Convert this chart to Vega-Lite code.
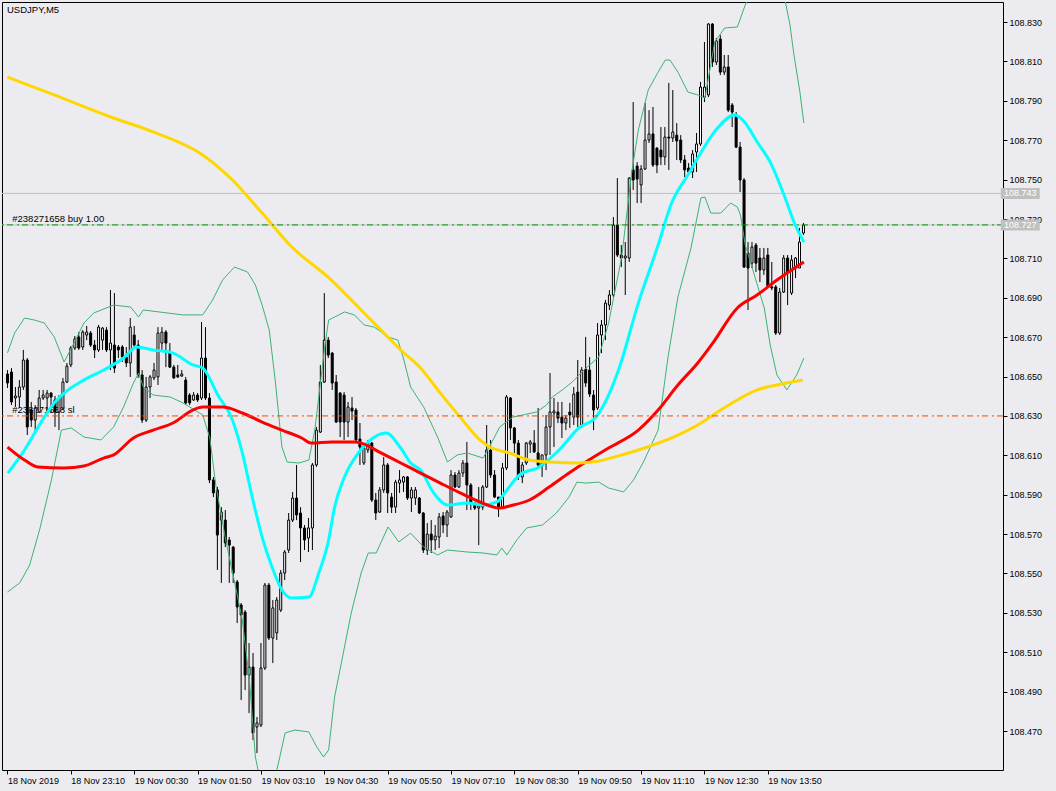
{
"$schema": "https://vega.github.io/schema/vega-lite/v6.json",
"width": 1001, "height": 768,
"autosize": {"type": "none"},
"padding": {"left": 2, "top": 2, "right": 53, "bottom": 21},
"background": "#ececf0",
"title": {"text": "USDJPY,M5", "anchor": "start", "frame": "group", "offset": -12, "dx": 5, "fontSize": 9.5, "font": "Liberation Sans", "fontWeight": "normal", "color": "#000000"},
"config": {"view": {"stroke": "#000000", "strokeWidth": 1, "fill": "#ececf0"}, "font": "Liberation Sans"},
"datasets": {
"candles": [
{"i":0,"o":108.6513,"h":108.6533,"l":108.6442,"c":108.6467},
{"i":1,"o":108.6523,"h":108.6543,"l":108.6355,"c":108.6371},
{"i":2,"o":108.6391,"h":108.6447,"l":108.6345,"c":108.6401},
{"i":3,"o":108.6396,"h":108.6482,"l":108.6340,"c":108.6447},
{"i":4,"o":108.6447,"h":108.6635,"l":108.6432,"c":108.6584},
{"i":5,"o":108.6584,"h":108.6594,"l":108.6203,"c":108.6244},
{"i":6,"o":108.6330,"h":108.6371,"l":108.6244,"c":108.6279},
{"i":7,"o":108.6279,"h":108.6355,"l":108.6213,"c":108.6340},
{"i":8,"o":108.6320,"h":108.6432,"l":108.6315,"c":108.6391},
{"i":9,"o":108.6391,"h":108.6432,"l":108.6381,"c":108.6406},
{"i":10,"o":108.6391,"h":108.6432,"l":108.6320,"c":108.6416},
{"i":11,"o":108.6416,"h":108.6421,"l":108.6315,"c":108.6396},
{"i":12,"o":108.6381,"h":108.6401,"l":108.6244,"c":108.6320},
{"i":13,"o":108.6320,"h":108.6406,"l":108.6228,"c":108.6391},
{"i":14,"o":108.6340,"h":108.6493,"l":108.6330,"c":108.6472},
{"i":15,"o":108.6472,"h":108.6569,"l":108.6467,"c":108.6553},
{"i":16,"o":108.6559,"h":108.6655,"l":108.6548,"c":108.6645},
{"i":17,"o":108.6645,"h":108.6706,"l":108.6635,"c":108.6691},
{"i":18,"o":108.6701,"h":108.6726,"l":108.6635,"c":108.6645},
{"i":19,"o":108.6650,"h":108.6736,"l":108.6635,"c":108.6726},
{"i":20,"o":108.6711,"h":108.6757,"l":108.6685,"c":108.6726},
{"i":21,"o":108.6721,"h":108.6731,"l":108.6650,"c":108.6660},
{"i":22,"o":108.6660,"h":108.6685,"l":108.6594,"c":108.6635},
{"i":23,"o":108.6635,"h":108.6762,"l":108.6625,"c":108.6751},
{"i":24,"o":108.6685,"h":108.6751,"l":108.6635,"c":108.6746},
{"i":25,"o":108.6736,"h":108.6751,"l":108.6625,"c":108.6635},
{"i":26,"o":108.6635,"h":108.6939,"l":108.6533,"c":108.6670},
{"i":27,"o":108.6660,"h":108.6924,"l":108.6518,"c":108.6543},
{"i":28,"o":108.6650,"h":108.6660,"l":108.6594,"c":108.6635},
{"i":29,"o":108.6650,"h":108.6660,"l":108.6574,"c":108.6599},
{"i":30,"o":108.6599,"h":108.6650,"l":108.6548,"c":108.6569},
{"i":31,"o":108.6569,"h":108.6797,"l":108.6498,"c":108.6751},
{"i":32,"o":108.6711,"h":108.6757,"l":108.6650,"c":108.6660},
{"i":33,"o":108.6660,"h":108.6685,"l":108.6493,"c":108.6508},
{"i":34,"o":108.6508,"h":108.6533,"l":108.6264,"c":108.6279},
{"i":35,"o":108.6279,"h":108.6498,"l":108.6269,"c":108.6447},
{"i":36,"o":108.6447,"h":108.6508,"l":108.6391,"c":108.6498},
{"i":37,"o":108.6493,"h":108.6569,"l":108.6482,"c":108.6533},
{"i":38,"o":108.6498,"h":108.6751,"l":108.6457,"c":108.6721},
{"i":39,"o":108.6670,"h":108.6751,"l":108.6635,"c":108.6726},
{"i":40,"o":108.6726,"h":108.6736,"l":108.6548,"c":108.6670},
{"i":41,"o":108.6625,"h":108.6670,"l":108.6543,"c":108.6548},
{"i":42,"o":108.6548,"h":108.6559,"l":108.6488,"c":108.6493},
{"i":43,"o":108.6508,"h":108.6559,"l":108.6493,"c":108.6498},
{"i":44,"o":108.6503,"h":108.6533,"l":108.6498,"c":108.6513},
{"i":45,"o":108.6482,"h":108.6498,"l":108.6355,"c":108.6366},
{"i":46,"o":108.6406,"h":108.6416,"l":108.6355,"c":108.6366},
{"i":47,"o":108.6381,"h":108.6421,"l":108.6376,"c":108.6406},
{"i":48,"o":108.6406,"h":108.6416,"l":108.6371,"c":108.6381},
{"i":49,"o":108.6391,"h":108.6777,"l":108.6381,"c":108.6594},
{"i":50,"o":108.6594,"h":108.6751,"l":108.6381,"c":108.6391},
{"i":51,"o":108.6391,"h":108.6416,"l":108.5959,"c":108.5975},
{"i":52,"o":108.5975,"h":108.5990,"l":108.5888,"c":108.5909},
{"i":53,"o":108.5924,"h":108.5939,"l":108.5518,"c":108.5695},
{"i":54,"o":108.5771,"h":108.5837,"l":108.5452,"c":108.5812},
{"i":55,"o":108.5771,"h":108.5822,"l":108.5634,"c":108.5655},
{"i":56,"o":108.5670,"h":108.5685,"l":108.5452,"c":108.5644},
{"i":57,"o":108.5634,"h":108.5639,"l":108.5452,"c":108.5502},
{"i":58,"o":108.5457,"h":108.5467,"l":108.5248,"c":108.5330},
{"i":59,"o":108.5340,"h":108.5350,"l":108.4857,"c":108.5289},
{"i":60,"o":108.5304,"h":108.5314,"l":108.4908,"c":108.4984},
{"i":61,"o":108.4984,"h":108.5147,"l":108.4791,"c":108.5025},
{"i":62,"o":108.5025,"h":108.5096,"l":108.4654,"c":108.4690},
{"i":63,"o":108.4720,"h":108.4771,"l":108.4588,"c":108.4741},
{"i":64,"o":108.4730,"h":108.5147,"l":108.4720,"c":108.5020},
{"i":65,"o":108.5020,"h":108.5452,"l":108.5010,"c":108.5441},
{"i":66,"o":108.5441,"h":108.5452,"l":108.5162,"c":108.5172},
{"i":67,"o":108.5172,"h":108.5365,"l":108.5045,"c":108.5325},
{"i":68,"o":108.5198,"h":108.5380,"l":108.5162,"c":108.5365},
{"i":69,"o":108.5314,"h":108.5518,"l":108.5304,"c":108.5502},
{"i":70,"o":108.5502,"h":108.5619,"l":108.5467,"c":108.5609},
{"i":71,"o":108.5619,"h":108.5807,"l":108.5604,"c":108.5771},
{"i":72,"o":108.5771,"h":108.5914,"l":108.5761,"c":108.5883},
{"i":73,"o":108.5883,"h":108.6051,"l":108.5771,"c":108.5797},
{"i":74,"o":108.5807,"h":108.5837,"l":108.5558,"c":108.5731},
{"i":75,"o":108.5731,"h":108.5746,"l":108.5619,"c":108.5670},
{"i":76,"o":108.5680,"h":108.5782,"l":108.5609,"c":108.5731},
{"i":77,"o":108.5731,"h":108.6061,"l":108.5619,"c":108.6051},
{"i":78,"o":108.6051,"h":108.6244,"l":108.6041,"c":108.6228},
{"i":79,"o":108.6218,"h":108.6559,"l":108.6213,"c":108.6472},
{"i":80,"o":108.6472,"h":108.6924,"l":108.6467,"c":108.6685},
{"i":81,"o":108.6685,"h":108.6701,"l":108.6594,"c":108.6609},
{"i":82,"o":108.6619,"h":108.6625,"l":108.6432,"c":108.6467},
{"i":83,"o":108.6472,"h":108.6508,"l":108.6264,"c":108.6269},
{"i":84,"o":108.6416,"h":108.6421,"l":108.6193,"c":108.6269},
{"i":85,"o":108.6406,"h":108.6421,"l":108.6178,"c":108.6269},
{"i":86,"o":108.6269,"h":108.6371,"l":108.6193,"c":108.6345},
{"i":87,"o":108.6340,"h":108.6396,"l":108.6279,"c":108.6325},
{"i":88,"o":108.6330,"h":108.6340,"l":108.6168,"c":108.6178},
{"i":89,"o":108.6183,"h":108.6264,"l":108.6051,"c":108.6142},
{"i":90,"o":108.6061,"h":108.6162,"l":108.6051,"c":108.6137},
{"i":91,"o":108.6127,"h":108.6178,"l":108.6112,"c":108.6162},
{"i":92,"o":108.6162,"h":108.6168,"l":108.5863,"c":108.5873},
{"i":93,"o":108.5873,"h":108.5909,"l":108.5771,"c":108.5807},
{"i":94,"o":108.5812,"h":108.5939,"l":108.5807,"c":108.5924},
{"i":95,"o":108.5924,"h":108.6091,"l":108.5909,"c":108.6051},
{"i":96,"o":108.6051,"h":108.6061,"l":108.5807,"c":108.5909},
{"i":97,"o":108.5888,"h":108.5909,"l":108.5807,"c":108.5837},
{"i":98,"o":108.5837,"h":108.5975,"l":108.5807,"c":108.5964},
{"i":99,"o":108.5959,"h":108.6025,"l":108.5909,"c":108.5975},
{"i":100,"o":108.5964,"h":108.5995,"l":108.5914,"c":108.5990},
{"i":101,"o":108.5990,"h":108.5995,"l":108.5873,"c":108.5883},
{"i":102,"o":108.5883,"h":108.5939,"l":108.5812,"c":108.5924},
{"i":103,"o":108.5883,"h":108.5939,"l":108.5848,"c":108.5924},
{"i":104,"o":108.5883,"h":108.5888,"l":108.5802,"c":108.5807},
{"i":105,"o":108.5807,"h":108.5812,"l":108.5604,"c":108.5619},
{"i":106,"o":108.5619,"h":108.5756,"l":108.5594,"c":108.5700},
{"i":107,"o":108.5700,"h":108.5771,"l":108.5604,"c":108.5670},
{"i":108,"o":108.5670,"h":108.5746,"l":108.5619,"c":108.5690},
{"i":109,"o":108.5685,"h":108.5807,"l":108.5629,"c":108.5787},
{"i":110,"o":108.5792,"h":108.5812,"l":108.5705,"c":108.5746},
{"i":111,"o":108.5746,"h":108.5822,"l":108.5685,"c":108.5812},
{"i":112,"o":108.5787,"h":108.6025,"l":108.5782,"c":108.6000},
{"i":113,"o":108.6000,"h":108.6015,"l":108.5934,"c":108.5939},
{"i":114,"o":108.5939,"h":108.6025,"l":108.5934,"c":108.6010},
{"i":115,"o":108.6010,"h":108.6076,"l":108.5990,"c":108.6061},
{"i":116,"o":108.6061,"h":108.6168,"l":108.5822,"c":108.5949},
{"i":117,"o":108.5949,"h":108.5959,"l":108.5822,"c":108.5858},
{"i":118,"o":108.5858,"h":108.5858,"l":108.5822,"c":108.5832},
{"i":119,"o":108.5832,"h":108.5939,"l":108.5644,"c":108.5843},
{"i":120,"o":108.5837,"h":108.5949,"l":108.5822,"c":108.5939},
{"i":121,"o":108.5939,"h":108.6254,"l":108.5934,"c":108.6127},
{"i":122,"o":108.6127,"h":108.6178,"l":108.5985,"c":108.6000},
{"i":123,"o":108.6000,"h":108.6025,"l":108.5883,"c":108.5888},
{"i":124,"o":108.5888,"h":108.5888,"l":108.5787,"c":108.5837},
{"i":125,"o":108.5837,"h":108.6061,"l":108.5832,"c":108.6036},
{"i":126,"o":108.6036,"h":108.6406,"l":108.6025,"c":108.6396},
{"i":127,"o":108.6391,"h":108.6396,"l":108.6178,"c":108.6239},
{"i":128,"o":108.6239,"h":108.6244,"l":108.6112,"c":108.6162},
{"i":129,"o":108.6162,"h":108.6178,"l":108.5975,"c":108.5990},
{"i":130,"o":108.5990,"h":108.6066,"l":108.5959,"c":108.6051},
{"i":131,"o":108.6061,"h":108.6168,"l":108.6051,"c":108.6162},
{"i":132,"o":108.6157,"h":108.6178,"l":108.6112,"c":108.6168},
{"i":133,"o":108.6162,"h":108.6228,"l":108.6112,"c":108.6117},
{"i":134,"o":108.6112,"h":108.6340,"l":108.6041,"c":108.6051},
{"i":135,"o":108.6046,"h":108.6102,"l":108.5990,"c":108.6102},
{"i":136,"o":108.6102,"h":108.6305,"l":108.6025,"c":108.6244},
{"i":137,"o":108.6244,"h":108.6518,"l":108.6102,"c":108.6320},
{"i":138,"o":108.6315,"h":108.6391,"l":108.6142,"c":108.6325},
{"i":139,"o":108.6320,"h":108.6371,"l":108.6264,"c":108.6289},
{"i":140,"o":108.6294,"h":108.6371,"l":108.6188,"c":108.6264},
{"i":141,"o":108.6264,"h":108.6305,"l":108.6228,"c":108.6289},
{"i":142,"o":108.6320,"h":108.6366,"l":108.6239,"c":108.6305},
{"i":143,"o":108.6294,"h":108.6447,"l":108.6254,"c":108.6411},
{"i":144,"o":108.6421,"h":108.6584,"l":108.6244,"c":108.6294},
{"i":145,"o":108.6254,"h":108.6548,"l":108.6239,"c":108.6533},
{"i":146,"o":108.6538,"h":108.6701,"l":108.6447,"c":108.6467},
{"i":147,"o":108.6533,"h":108.6599,"l":108.6396,"c":108.6411},
{"i":148,"o":108.6406,"h":108.6432,"l":108.6228,"c":108.6330},
{"i":149,"o":108.6340,"h":108.6772,"l":108.6330,"c":108.6711},
{"i":150,"o":108.6711,"h":108.6787,"l":108.6619,"c":108.6762},
{"i":151,"o":108.6762,"h":108.6889,"l":108.6685,"c":108.6873},
{"i":152,"o":108.6863,"h":108.6939,"l":108.6838,"c":108.6914},
{"i":153,"o":108.6914,"h":108.7310,"l":108.6904,"c":108.7269},
{"i":154,"o":108.7269,"h":108.7508,"l":108.7107,"c":108.7117},
{"i":155,"o":108.7117,"h":108.7168,"l":108.7056,"c":108.7102},
{"i":156,"o":108.7102,"h":108.7183,"l":108.6914,"c":108.7112},
{"i":157,"o":108.7102,"h":108.7513,"l":108.7082,"c":108.7508},
{"i":158,"o":108.7549,"h":108.7894,"l":108.7447,"c":108.7498},
{"i":159,"o":108.7569,"h":108.7589,"l":108.7381,"c":108.7503},
{"i":160,"o":108.7473,"h":108.7574,"l":108.7381,"c":108.7554},
{"i":161,"o":108.7554,"h":108.7889,"l":108.7549,"c":108.7701},
{"i":162,"o":108.7701,"h":108.7853,"l":108.7686,"c":108.7732},
{"i":163,"o":108.7732,"h":108.7869,"l":108.7564,"c":108.7574},
{"i":164,"o":108.7660,"h":108.7665,"l":108.7533,"c":108.7574},
{"i":165,"o":108.7650,"h":108.7767,"l":108.7574,"c":108.7615},
{"i":166,"o":108.7615,"h":108.7767,"l":108.7574,"c":108.7716},
{"i":167,"o":108.7716,"h":108.7991,"l":108.7549,"c":108.7711},
{"i":168,"o":108.7711,"h":108.7955,"l":108.7691,"c":108.7742},
{"i":169,"o":108.7726,"h":108.7787,"l":108.7600,"c":108.7696},
{"i":170,"o":108.7701,"h":108.7726,"l":108.7584,"c":108.7600},
{"i":171,"o":108.7600,"h":108.7625,"l":108.7513,"c":108.7549},
{"i":172,"o":108.7559,"h":108.7584,"l":108.7533,"c":108.7539},
{"i":173,"o":108.7539,"h":108.7650,"l":108.7508,"c":108.7630},
{"i":174,"o":108.7640,"h":108.7737,"l":108.7539,"c":108.7681},
{"i":175,"o":108.7681,"h":108.7996,"l":108.7671,"c":108.7970},
{"i":176,"o":108.7919,"h":108.8199,"l":108.7894,"c":108.7970},
{"i":177,"o":108.7930,"h":108.8295,"l":108.7919,"c":108.8290},
{"i":178,"o":108.8290,"h":108.8295,"l":108.8072,"c":108.8097},
{"i":179,"o":108.8097,"h":108.8219,"l":108.8082,"c":108.8204},
{"i":180,"o":108.8214,"h":108.8234,"l":108.8031,"c":108.8046},
{"i":181,"o":108.8046,"h":108.8133,"l":108.8031,"c":108.8072},
{"i":182,"o":108.8072,"h":108.8133,"l":108.7843,"c":108.7853},
{"i":183,"o":108.7879,"h":108.7889,"l":108.7767,"c":108.7843},
{"i":184,"o":108.7828,"h":108.7843,"l":108.7660,"c":108.7665},
{"i":185,"o":108.7665,"h":108.7691,"l":108.7437,"c":108.7498},
{"i":186,"o":108.7498,"h":108.7508,"l":108.7051,"c":108.7056},
{"i":187,"o":108.7127,"h":108.7183,"l":108.6838,"c":108.7051},
{"i":188,"o":108.7076,"h":108.7183,"l":108.7051,"c":108.7158},
{"i":189,"o":108.7168,"h":108.7178,"l":108.7031,"c":108.7076},
{"i":190,"o":108.7102,"h":108.7153,"l":108.6980,"c":108.7041},
{"i":191,"o":108.7041,"h":108.7153,"l":108.7016,"c":108.7102},
{"i":192,"o":108.7117,"h":108.7153,"l":108.6950,"c":108.6955},
{"i":193,"o":108.6955,"h":108.7082,"l":108.6939,"c":108.6950},
{"i":194,"o":108.6955,"h":108.6965,"l":108.6711,"c":108.6721},
{"i":195,"o":108.6721,"h":108.6950,"l":108.6711,"c":108.6929},
{"i":196,"o":108.6929,"h":108.7117,"l":108.6924,"c":108.7102},
{"i":197,"o":108.7102,"h":108.7117,"l":108.6863,"c":108.7031},
{"i":198,"o":108.6924,"h":108.7117,"l":108.6914,"c":108.7092},
{"i":199,"o":108.7051,"h":108.7107,"l":108.7000,"c":108.7102},
{"i":200,"o":108.7051,"h":108.7254,"l":108.7051,"c":108.7183},
{"i":201,"o":108.7229,"h":108.7280,"l":108.7219,"c":108.7269}
],
"lines": [
{"s":"y","i":0,"v":108.8021},{"s":"y","i":11.8,"v":108.7930},{"s":"y","i":26.1,"v":108.7818},{"s":"y","i":36.8,"v":108.7742},{"s":"y","i":49.3,"v":108.7625},{"s":"y","i":56.8,"v":108.7498},{"s":"y","i":64.3,"v":108.7330},{"s":"y","i":71.8,"v":108.7158},{"s":"y","i":81.8,"v":108.6990},{"s":"y","i":89.3,"v":108.6838},{"s":"y","i":96.8,"v":108.6685},{"s":"y","i":99.3,"v":108.6635},{"s":"y","i":104.3,"v":108.6543},{"s":"y","i":109.3,"v":108.6416},{"s":"y","i":114.3,"v":108.6294},{"s":"y","i":119.3,"v":108.6178},{"s":"y","i":121.8,"v":108.6142},{"s":"y","i":126.8,"v":108.6112},{"s":"y","i":131.8,"v":108.6076},{"s":"y","i":136.8,"v":108.6066},{"s":"y","i":144.3,"v":108.6061},{"s":"y","i":149.3,"v":108.6071},{"s":"y","i":154.3,"v":108.6097},{"s":"y","i":159.3,"v":108.6127},{"s":"y","i":164.3,"v":108.6162},{"s":"y","i":169.3,"v":108.6203},{"s":"y","i":174.3,"v":108.6254},{"s":"y","i":179.3,"v":108.6320},{"s":"y","i":184.3,"v":108.6381},{"s":"y","i":189.3,"v":108.6432},{"s":"y","i":194.3,"v":108.6457},{"s":"y","i":200.8,"v":108.6482},
{"s":"r","i":0,"v":108.6142},{"s":"r","i":4.3,"v":108.6076},{"s":"r","i":7.6,"v":108.6041},{"s":"r","i":14.3,"v":108.6036},{"s":"r","i":19.3,"v":108.6046},{"s":"r","i":24.3,"v":108.6086},{"s":"r","i":26.8,"v":108.6102},{"s":"r","i":31.8,"v":108.6188},{"s":"r","i":36.8,"v":108.6228},{"s":"r","i":41.8,"v":108.6264},{"s":"r","i":46.8,"v":108.6330},{"s":"r","i":49.3,"v":108.6345},{"s":"r","i":54.3,"v":108.6345},{"s":"r","i":59.3,"v":108.6315},{"s":"r","i":64.3,"v":108.6269},{"s":"r","i":69.3,"v":108.6228},{"s":"r","i":74.3,"v":108.6188},{"s":"r","i":76.8,"v":108.6162},{"s":"r","i":81.8,"v":108.6168},{"s":"r","i":87.6,"v":108.6168},{"s":"r","i":89.3,"v":108.6162},{"s":"r","i":94.3,"v":108.6112},{"s":"r","i":99.3,"v":108.6061},{"s":"r","i":104.3,"v":108.6010},{"s":"r","i":109.3,"v":108.5959},{"s":"r","i":114.3,"v":108.5909},{"s":"r","i":119.3,"v":108.5863},{"s":"r","i":124.3,"v":108.5832},{"s":"r","i":126.8,"v":108.5843},{"s":"r","i":131.8,"v":108.5873},{"s":"r","i":136.8,"v":108.5939},{"s":"r","i":141.8,"v":108.6010},{"s":"r","i":146.8,"v":108.6076},{"s":"r","i":151.8,"v":108.6137},{"s":"r","i":159.3,"v":108.6228},{"s":"r","i":164.3,"v":108.6330},{"s":"r","i":169.3,"v":108.6457},{"s":"r","i":174.3,"v":108.6569},{"s":"r","i":178.1,"v":108.6670},{"s":"r","i":184.3,"v":108.6848},{"s":"r","i":189.3,"v":108.6914},{"s":"r","i":194.3,"v":108.6990},{"s":"r","i":201.1,"v":108.7082},
{"s":"c","i":0.1,"v":108.6010},{"s":"c","i":4.3,"v":108.6127},{"s":"c","i":9.3,"v":108.6294},{"s":"c","i":11.8,"v":108.6366},{"s":"c","i":14.3,"v":108.6416},{"s":"c","i":19.3,"v":108.6482},{"s":"c","i":24.3,"v":108.6533},{"s":"c","i":29.3,"v":108.6594},{"s":"c","i":32.6,"v":108.6650},{"s":"c","i":36.8,"v":108.6635},{"s":"c","i":41.8,"v":108.6619},{"s":"c","i":46.8,"v":108.6559},{"s":"c","i":49.3,"v":108.6543},{"s":"c","i":53.1,"v":108.6406},{"s":"c","i":56.8,"v":108.6279},{"s":"c","i":59.3,"v":108.6112},{"s":"c","i":61.8,"v":108.5888},{"s":"c","i":64.3,"v":108.5685},{"s":"c","i":66.8,"v":108.5533},{"s":"c","i":69.3,"v":108.5416},{"s":"c","i":71.8,"v":108.5375},{"s":"c","i":76.1,"v":108.5380},{"s":"c","i":78.6,"v":108.5502},{"s":"c","i":81.1,"v":108.5670},{"s":"c","i":82.6,"v":108.5837},{"s":"c","i":85.1,"v":108.5990},{"s":"c","i":88.6,"v":108.6112},{"s":"c","i":91.1,"v":108.6168},{"s":"c","i":95.6,"v":108.6213},{"s":"c","i":99.3,"v":108.6137},{"s":"c","i":101.8,"v":108.6061},{"s":"c","i":104.3,"v":108.6025},{"s":"c","i":107.6,"v":108.5909},{"s":"c","i":111.1,"v":108.5848},{"s":"c","i":116.1,"v":108.5858},{"s":"c","i":120.1,"v":108.5848},{"s":"c","i":123.6,"v":108.5863},{"s":"c","i":126.1,"v":108.5924},{"s":"c","i":129.3,"v":108.6000},{"s":"c","i":134.3,"v":108.6041},{"s":"c","i":139.3,"v":108.6127},{"s":"c","i":144.3,"v":108.6239},{"s":"c","i":148.6,"v":108.6294},{"s":"c","i":151.8,"v":108.6406},{"s":"c","i":154.3,"v":108.6533},{"s":"c","i":159.3,"v":108.6873},{"s":"c","i":164.3,"v":108.7168},{"s":"c","i":167.6,"v":108.7376},{"s":"c","i":171.8,"v":108.7523},{"s":"c","i":174.3,"v":108.7610},{"s":"c","i":179.3,"v":108.7762},{"s":"c","i":183.6,"v":108.7828},{"s":"c","i":186.1,"v":108.7793},{"s":"c","i":189.3,"v":108.7691},{"s":"c","i":192.6,"v":108.7589},{"s":"c","i":196.1,"v":108.7422},{"s":"c","i":198.6,"v":108.7285},{"s":"c","i":201.1,"v":108.7183},
{"s":"u","i":0,"v":108.6620},{"s":"u","i":1.8,"v":108.6721},{"s":"u","i":4.3,"v":108.6797},{"s":"u","i":6.8,"v":108.6787},{"s":"u","i":9.3,"v":108.6772},{"s":"u","i":11.8,"v":108.6701},{"s":"u","i":14.3,"v":108.6574},{"s":"u","i":16.8,"v":108.6670},{"s":"u","i":19.3,"v":108.6772},{"s":"u","i":21.8,"v":108.6823},{"s":"u","i":26.8,"v":108.6863},{"s":"u","i":31.1,"v":108.6853},{"s":"u","i":33.1,"v":108.6802},{"s":"u","i":34.3,"v":108.6838},{"s":"u","i":44.3,"v":108.6813},{"s":"u","i":49.3,"v":108.6813},{"s":"u","i":51.8,"v":108.6889},{"s":"u","i":54.3,"v":108.6990},{"s":"u","i":57.3,"v":108.7056},{"s":"u","i":60.6,"v":108.7031},{"s":"u","i":62.6,"v":108.6965},{"s":"u","i":64.3,"v":108.6863},{"s":"u","i":66.1,"v":108.6736},{"s":"u","i":67.6,"v":108.6482},{"s":"u","i":69.3,"v":108.6142},{"s":"u","i":70.6,"v":108.6066},{"s":"u","i":73.6,"v":108.6061},{"s":"u","i":76.1,"v":108.6076},{"s":"u","i":77.6,"v":108.6228},{"s":"u","i":80.1,"v":108.6650},{"s":"u","i":81.1,"v":108.6787},{"s":"u","i":82.6,"v":108.6802},{"s":"u","i":85.1,"v":108.6828},{"s":"u","i":87.6,"v":108.6813},{"s":"u","i":90.1,"v":108.6762},{"s":"u","i":92.6,"v":108.6751},{"s":"u","i":96.1,"v":108.6701},{"s":"u","i":98.6,"v":108.6685},{"s":"u","i":100.1,"v":108.6584},{"s":"u","i":101.8,"v":108.6447},{"s":"u","i":105.1,"v":108.6345},{"s":"u","i":108.6,"v":108.6193},{"s":"u","i":111.1,"v":108.6066},{"s":"u","i":113.6,"v":108.6102},{"s":"u","i":116.1,"v":108.6112},{"s":"u","i":120.1,"v":108.6086},{"s":"u","i":122.6,"v":108.6178},{"s":"u","i":124.3,"v":108.6244},{"s":"u","i":127.6,"v":108.6294},{"s":"u","i":133.6,"v":108.6320},{"s":"u","i":136.1,"v":108.6355},{"s":"u","i":137.6,"v":108.6396},{"s":"u","i":140.1,"v":108.6432},{"s":"u","i":142.6,"v":108.6472},{"s":"u","i":146.1,"v":108.6543},{"s":"u","i":149.3,"v":108.6599},{"s":"u","i":151.8,"v":108.6772},{"s":"u","i":155.1,"v":108.7107},{"s":"u","i":157.6,"v":108.7533},{"s":"u","i":159.3,"v":108.7752},{"s":"u","i":161.8,"v":108.7955},{"s":"u","i":164.3,"v":108.8046},{"s":"u","i":166.1,"v":108.8107},{"s":"u","i":167.3,"v":108.8107},{"s":"u","i":169.3,"v":108.8046},{"s":"u","i":171.8,"v":108.7945},{"s":"u","i":174.3,"v":108.7930},{"s":"u","i":176.1,"v":108.7914},{"s":"u","i":178.6,"v":108.8199},{"s":"u","i":181.1,"v":108.8270},{"s":"u","i":184.3,"v":108.8275},{"s":"u","i":186.3,"v":108.8387},{"s":"u","i":189.3,"v":108.8514},{"s":"u","i":193.1,"v":108.8539},{"s":"u","i":196.1,"v":108.8437},{"s":"u","i":197.6,"v":108.8285},{"s":"u","i":198.6,"v":108.8133},{"s":"u","i":200.1,"v":108.7945},{"s":"u","i":201.1,"v":108.7787},
{"s":"d","i":0,"v":108.5406},{"s":"d","i":3.1,"v":108.5452},{"s":"d","i":5.6,"v":108.5543},{"s":"d","i":8.1,"v":108.5721},{"s":"d","i":11.1,"v":108.5975},{"s":"d","i":13.6,"v":108.6228},{"s":"d","i":16.1,"v":108.6239},{"s":"d","i":19.3,"v":108.6193},{"s":"d","i":23.6,"v":108.6178},{"s":"d","i":26.8,"v":108.6244},{"s":"d","i":29.3,"v":108.6345},{"s":"d","i":31.8,"v":108.6467},{"s":"d","i":33.1,"v":108.6518},{"s":"d","i":34.3,"v":108.6447},{"s":"d","i":36.8,"v":108.6406},{"s":"d","i":41.1,"v":108.6396},{"s":"d","i":44.3,"v":108.6366},{"s":"d","i":49.3,"v":108.6305},{"s":"d","i":51.1,"v":108.6188},{"s":"d","i":52.6,"v":108.5949},{"s":"d","i":55.1,"v":108.5670},{"s":"d","i":57.6,"v":108.5431},{"s":"d","i":59.3,"v":108.5264},{"s":"d","i":61.1,"v":108.4959},{"s":"d","i":62.6,"v":108.4568},{"s":"d","i":64.8,"v":108.4350},{"s":"d","i":66.8,"v":108.4400},{"s":"d","i":68.6,"v":108.4553},{"s":"d","i":70.1,"v":108.4690},{"s":"d","i":72.6,"v":108.4705},{"s":"d","i":76.1,"v":108.4695},{"s":"d","i":78.1,"v":108.4619},{"s":"d","i":79.8,"v":108.4568},{"s":"d","i":81.1,"v":108.4604},{"s":"d","i":82.6,"v":108.4873},{"s":"d","i":84.3,"v":108.5045},{"s":"d","i":86.8,"v":108.5299},{"s":"d","i":89.3,"v":108.5502},{"s":"d","i":91.1,"v":108.5604},{"s":"d","i":93.1,"v":108.5604},{"s":"d","i":96.1,"v":108.5736},{"s":"d","i":98.8,"v":108.5660},{"s":"d","i":101.8,"v":108.5705},{"s":"d","i":105.1,"v":108.5634},{"s":"d","i":108.6,"v":108.5594},{"s":"d","i":111.1,"v":108.5619},{"s":"d","i":116.1,"v":108.5609},{"s":"d","i":120.1,"v":108.5604},{"s":"d","i":123.6,"v":108.5594},{"s":"d","i":124.8,"v":108.5629},{"s":"d","i":126.1,"v":108.5594},{"s":"d","i":128.6,"v":108.5670},{"s":"d","i":131.1,"v":108.5731},{"s":"d","i":135.1,"v":108.5746},{"s":"d","i":138.6,"v":108.5807},{"s":"d","i":141.8,"v":108.5888},{"s":"d","i":143.8,"v":108.5964},{"s":"d","i":146.1,"v":108.5959},{"s":"d","i":149.3,"v":108.5964},{"s":"d","i":151.8,"v":108.5934},{"s":"d","i":155.6,"v":108.5914},{"s":"d","i":158.1,"v":108.5975},{"s":"d","i":160.6,"v":108.6066},{"s":"d","i":164.3,"v":108.6228},{"s":"d","i":166.8,"v":108.6599},{"s":"d","i":169.3,"v":108.6904},{"s":"d","i":172.6,"v":108.7153},{"s":"d","i":175.1,"v":108.7407},{"s":"d","i":176.1,"v":108.7412},{"s":"d","i":177.6,"v":108.7330},{"s":"d","i":180.1,"v":108.7330},{"s":"d","i":182.6,"v":108.7381},{"s":"d","i":184.3,"v":108.7361},{"s":"d","i":185.1,"v":108.7320},{"s":"d","i":186.3,"v":108.7168},{"s":"d","i":188.6,"v":108.7016},{"s":"d","i":191.1,"v":108.6848},{"s":"d","i":192.6,"v":108.6660},{"s":"d","i":194.3,"v":108.6508},{"s":"d","i":196.8,"v":108.6432},{"s":"d","i":199.3,"v":108.6508},{"s":"d","i":201.1,"v":108.6594}
]
},
"layer": [
{"mark": {"type": "rule", "color": "#000000", "strokeWidth": 1, "strokeDash": [3, 3]},
 "encoding": {"x": {"datum": 26, "type": "quantitative", "scale": {"domain": [-0.125, 250.125], "nice": false, "zero": false}}}},
{"data": {"values": [{"p": 108.743}, {"p": 108.727}]},
 "mark": {"type": "rule", "color": "#c0c0c0", "strokeWidth": 1},
 "encoding": {"y": {"field": "p", "type": "quantitative", "title": null, "scale": {"domain": [108.4502, 108.8402], "nice": false, "zero": false}}}},
{"data": {"values": [{"p": 108.727, "t": "#238271658 buy 1.00"}, {"p": 108.630, "t": "#238271658 sl"}]},
 "mark": {"type": "text", "align": "left", "baseline": "alphabetic", "dy": -3, "fontSize": 9.5, "font": "Liberation Sans", "color": "#000000"},
 "encoding": {"x": {"datum": 1.2, "type": "quantitative", "scale": {"domain": [-0.125, 250.125], "nice": false, "zero": false}},
  "y": {"field": "p", "type": "quantitative", "title": null, "scale": {"domain": [108.4502, 108.8402], "nice": false, "zero": false}},
  "text": {"field": "t"}}},
{"data": {"name": "candles"},
 "mark": {"type": "rule", "color": "#000000", "strokeWidth": 1},
 "encoding": {
  "x": {"field": "i", "type": "quantitative", "title": null, "scale": {"domain": [-0.125, 250.125], "nice": false, "zero": false},
   "axis": {"title": null, "values": [0,16,32,48,64,80,96,112,128,144,160,176,192],
    "labelExpr": "['18 Nov 2019','18 Nov 23:10','19 Nov 00:30','19 Nov 01:50','19 Nov 03:10','19 Nov 04:30','19 Nov 05:50','19 Nov 07:10','19 Nov 08:30','19 Nov 09:50','19 Nov 11:10','19 Nov 12:30','19 Nov 13:50'][round(datum.value/16)]",
    "labelAlign": "left", "labelBaseline": "top", "labelPadding": 2, "labelDx": 1, "tickSize": 4, "tickColor": "#000000", "domain": false, "grid": false,
    "labelColor": "#000000", "labelFont": "Liberation Sans", "labelFontSize": 9, "labelOverlap": false, "labelFlush": false, "labelBound": false}},
  "y": {"field": "l", "type": "quantitative", "title": null, "scale": {"domain": [108.4502, 108.8402], "nice": false, "zero": false},
   "axis": {"title": null, "orient": "right", "values": [108.47,108.49,108.51,108.53,108.55,108.57,108.59,108.61,108.63,108.65,108.67,108.69,108.71,108.73,108.75,108.77,108.79,108.81,108.83],
    "format": ".3f", "tickSize": 4, "tickColor": "#000000", "domain": false, "grid": false, "labelPadding": 2,
    "labelColor": "#000000", "labelFont": "Liberation Sans", "labelFontSize": 9, "labelOverlap": false, "labelFlush": false, "labelBound": false}},
  "y2": {"field": "h"}}},
{"data": {"name": "candles"},
 "mark": {"type": "bar", "width": 2, "stroke": "#000000", "strokeWidth": 1},
 "encoding": {
  "x": {"field": "i", "type": "quantitative", "title": null, "scale": {"domain": [-0.125, 250.125], "nice": false, "zero": false}},
  "y": {"field": "o", "type": "quantitative", "title": null, "scale": {"domain": [108.4502, 108.8402], "nice": false, "zero": false}},
  "y2": {"field": "c"},
  "fill": {"condition": {"test": "datum.c > datum.o", "value": "#ffffff"}, "value": "#000000"}}},
{"data": {"name": "lines"}, "transform": [{"filter": "datum.s == 'u'"}],
 "mark": {"type": "line", "color": "#3cb371", "strokeWidth": 1, "clip": true},
 "encoding": {"x": {"field": "i", "type": "quantitative", "title": null, "scale": {"domain": [-0.125, 250.125], "nice": false, "zero": false}},
  "y": {"field": "v", "type": "quantitative", "title": null, "scale": {"domain": [108.4502, 108.8402], "nice": false, "zero": false}}}},
{"data": {"name": "lines"}, "transform": [{"filter": "datum.s == 'd'"}],
 "mark": {"type": "line", "color": "#3cb371", "strokeWidth": 1, "clip": true},
 "encoding": {"x": {"field": "i", "type": "quantitative", "title": null, "scale": {"domain": [-0.125, 250.125], "nice": false, "zero": false}},
  "y": {"field": "v", "type": "quantitative", "title": null, "scale": {"domain": [108.4502, 108.8402], "nice": false, "zero": false}}}},
{"data": {"name": "lines"}, "transform": [{"filter": "datum.s == 'c'"}],
 "mark": {"type": "line", "color": "#00ffff", "strokeWidth": 3, "interpolate": "monotone", "clip": true},
 "encoding": {"x": {"field": "i", "type": "quantitative", "title": null, "scale": {"domain": [-0.125, 250.125], "nice": false, "zero": false}},
  "y": {"field": "v", "type": "quantitative", "title": null, "scale": {"domain": [108.4502, 108.8402], "nice": false, "zero": false}}}},
{"data": {"name": "lines"}, "transform": [{"filter": "datum.s == 'r'"}],
 "mark": {"type": "line", "color": "#ff0000", "strokeWidth": 3, "interpolate": "monotone", "clip": true},
 "encoding": {"x": {"field": "i", "type": "quantitative", "title": null, "scale": {"domain": [-0.125, 250.125], "nice": false, "zero": false}},
  "y": {"field": "v", "type": "quantitative", "title": null, "scale": {"domain": [108.4502, 108.8402], "nice": false, "zero": false}}}},
{"data": {"name": "lines"}, "transform": [{"filter": "datum.s == 'y'"}],
 "mark": {"type": "line", "color": "#ffd700", "strokeWidth": 3, "interpolate": "monotone", "clip": true},
 "encoding": {"x": {"field": "i", "type": "quantitative", "title": null, "scale": {"domain": [-0.125, 250.125], "nice": false, "zero": false}},
  "y": {"field": "v", "type": "quantitative", "title": null, "scale": {"domain": [108.4502, 108.8402], "nice": false, "zero": false}}}},
{"data": {"values": [{"p": 108.727}]},
 "mark": {"type": "rule", "color": "#009a00", "strokeWidth": 1, "strokeDash": [6, 3, 2, 4]},
 "encoding": {"y": {"field": "p", "type": "quantitative", "title": null, "scale": {"domain": [108.4502, 108.8402], "nice": false, "zero": false}}}},
{"data": {"values": [{"p": 108.630}]},
 "mark": {"type": "rule", "color": "#ff4500", "strokeWidth": 1, "strokeDash": [6, 3, 2, 4]},
 "encoding": {"y": {"field": "p", "type": "quantitative", "title": null, "scale": {"domain": [108.4502, 108.8402], "nice": false, "zero": false}}}},
{"data": {"values": [{"p": 108.743, "t": "108.743"}, {"p": 108.727, "t": "108.727"}]},
 "layer": [
  {"mark": {"type": "tick", "orient": "horizontal", "size": 39, "thickness": 11, "color": "#c0c0c0", "opacity": 1, "clip": false},
   "encoding": {"x": {"datum": 255.75, "type": "quantitative", "scale": {"domain": [-0.125, 250.125], "nice": false, "zero": false}},
    "y": {"field": "p", "type": "quantitative", "title": null, "scale": {"domain": [108.4502, 108.8402], "nice": false, "zero": false}}}},
  {"mark": {"type": "text", "align": "center", "baseline": "middle", "fontSize": 9, "font": "Liberation Sans", "color": "#ffffff", "clip": false},
   "encoding": {"x": {"datum": 255.75, "type": "quantitative", "scale": {"domain": [-0.125, 250.125], "nice": false, "zero": false}},
    "y": {"field": "p", "type": "quantitative", "title": null, "scale": {"domain": [108.4502, 108.8402], "nice": false, "zero": false}},
    "text": {"field": "t"}}}
 ]}
]
}
